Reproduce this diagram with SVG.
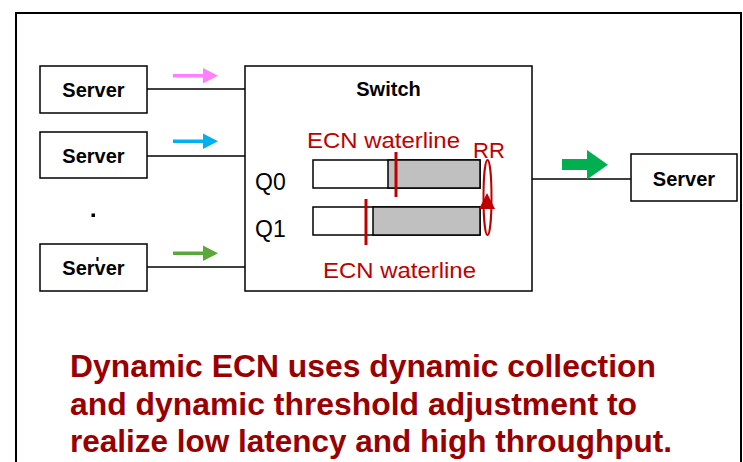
<svg xmlns="http://www.w3.org/2000/svg" width="743" height="462" viewBox="0 0 743 462">
<style>
.box{fill:#fff;stroke:#000;stroke-width:1.5}
.lbl{font-family:"Liberation Sans",Arial,sans-serif;font-weight:bold;font-size:20px;fill:#000;text-anchor:middle}
.q{font-family:"Liberation Sans",Arial,sans-serif;font-size:23px;fill:#000}
.red{font-family:"Liberation Sans",Arial,sans-serif;font-size:22px;fill:#c00000}
.wl{stroke:#c00000;stroke-width:3}
.conn{stroke:#000;stroke-width:1.5;fill:none}
.cap{font-family:"Liberation Sans",Arial,sans-serif;font-weight:bold;font-size:31px;fill:#990000}
</style>
<rect x="0" y="0" width="743" height="462" fill="#fff"/>
<rect x="16" y="13" width="725" height="470" fill="none" stroke="#000" stroke-width="2"/>
<g id="connectors">
<line class="conn" x1="147" y1="89" x2="245" y2="89"/>
<line class="conn" x1="147" y1="156" x2="245" y2="156"/>
<line class="conn" x1="147" y1="267" x2="245" y2="267"/>
<line class="conn" x1="532" y1="179" x2="631" y2="179"/>
</g>
<g id="flow-arrows">
<rect x="173" y="74" width="31" height="3.5" fill="#ff80ff"/>
<polygon points="203,68 218,75.8 203,83.5" fill="#ff80ff"/>
<rect x="173" y="139.5" width="31" height="3.5" fill="#00b0f0"/>
<polygon points="203,133.5 218,141.3 203,149" fill="#00b0f0"/>
<rect x="173" y="251.5" width="31" height="3.5" fill="#5aa83a"/>
<polygon points="203,245.5 218,253.3 203,261" fill="#5aa83a"/>
<rect x="562" y="159" width="26" height="11" fill="#00b050"/>
<polygon points="587,150 608,164.7 587,179.5" fill="#00b050"/>
</g>
<g id="server1">
<rect class="box" x="40" y="66" width="107" height="47"/>
<text class="lbl" x="93.5" y="96.5">Server</text>
</g>
<g id="server2">
<rect class="box" x="40" y="132" width="107" height="46"/>
<text class="lbl" x="93.5" y="162.5">Server</text>
</g>
<g id="ellipsis">
<rect x="91.5" y="213.5" width="3.5" height="3.5" fill="#000"/>
</g>
<g id="server3">
<rect class="box" x="40" y="244" width="107" height="47"/>
<text class="lbl" x="93.5" y="274.5">Server</text>
<rect x="96.5" y="257" width="2" height="4" fill="#000"/>
</g>
<g id="switch">
<rect class="box" x="245" y="66" width="287" height="225"/>
<text class="lbl" x="388.5" y="96">Switch</text>
<text class="q" x="255" y="190">Q0</text>
<text class="q" x="255" y="237">Q1</text>
<rect x="313" y="160" width="167" height="28" fill="#fff" stroke="#000" stroke-width="1.5"/>
<rect x="388" y="160" width="92" height="28" fill="#c0c0c0" stroke="#000" stroke-width="1.5"/>
<rect x="313" y="207" width="167" height="28" fill="#fff" stroke="#000" stroke-width="1.5"/>
<rect x="373" y="207" width="107" height="28" fill="#c0c0c0" stroke="#000" stroke-width="1.5"/>
<line class="wl" x1="396" y1="152" x2="396" y2="197"/>
<line class="wl" x1="366" y1="199" x2="366" y2="245"/>
<text class="red" x="307" y="148" textLength="153" lengthAdjust="spacingAndGlyphs">ECN waterline</text>
<text class="red" x="323" y="278" textLength="153" lengthAdjust="spacingAndGlyphs">ECN waterline</text>
<text class="red" x="473" y="158">RR</text>
<ellipse cx="487.5" cy="197.5" rx="4" ry="37.5" fill="none" stroke="#c00000" stroke-width="2"/>
<polygon points="487,193 479,209 495,209" fill="#c00000"/>
</g>
<g id="server-out">
<rect class="box" x="631" y="154" width="106" height="47"/>
<text class="lbl" x="684" y="186">Server</text>
</g>
<g id="caption">
<text class="cap" x="70" y="377" textLength="586" lengthAdjust="spacingAndGlyphs">Dynamic ECN uses dynamic collection</text>
<text class="cap" x="70" y="415" textLength="567" lengthAdjust="spacingAndGlyphs">and dynamic threshold adjustment to</text>
<text class="cap" x="70" y="452" textLength="602" lengthAdjust="spacingAndGlyphs">realize low latency and high throughput.</text>
</g>
</svg>
